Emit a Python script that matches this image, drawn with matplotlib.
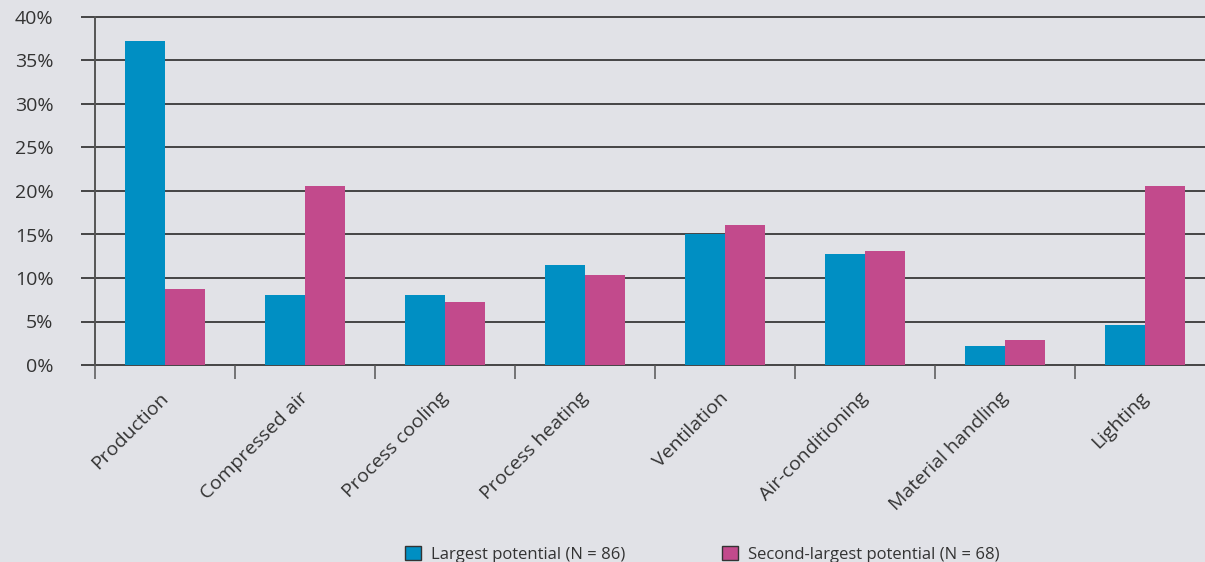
import matplotlib.pyplot as plt
import matplotlib.transforms as mtransforms
import numpy as np

categories = ["Production", "Compressed air", "Process cooling", "Process heating",
              "Ventilation", "Air-conditioning", "Material handling", "Lighting"]
largest = [37.2, 8.0, 8.0, 11.5, 15.1, 12.8, 2.2, 4.6]
second = [8.7, 20.6, 7.2, 10.3, 16.1, 13.1, 2.9, 20.6]
series_labels = ["Largest potential (N = 86)", "Second-largest potential (N = 68)"]
yticks = [0, 5, 10, 15, 20, 25, 30, 35, 40]

bg = "#E1E2E7"
blue = "#008FC3"
pink = "#C24A8C"
text_col = "#333333"

plt.rcParams["font.family"] = ["Open Sans", "DejaVu Sans"]

W, H = 1205, 562
fig = plt.figure(figsize=(W / 100, H / 100), dpi=100, facecolor=bg)
ax = fig.add_axes([95 / W, (H - 365) / H, (W - 95) / W, (365 - 17) / H])
ax.set_facecolor(bg)

x = np.arange(len(categories))
bw = 40 / 140
ax.bar(x - bw / 2, largest, width=bw, color=blue, label=series_labels[0], zorder=3)
ax.bar(x + bw / 2, second, width=bw, color=pink, label=series_labels[1], zorder=3)

ax.set_xlim(-0.5, -0.5 + (W - 95) / 140)
ax.set_ylim(0, 40)

# gridlines
for v in yticks:
    ax.axhline(v, color="#1a1a1a", lw=1.1, zorder=1, clip_on=False)

ax.set_yticks(yticks)
ax.set_yticklabels([f"{v}%" for v in yticks], fontsize=14, color=text_col)
ax.tick_params(axis="y", length=10, width=1.1, color="#1a1a1a", pad=20)

ax.set_xticks(np.arange(len(categories)) - 0.5)
ax.set_xticklabels([])
ax.tick_params(axis="x", which="major", length=10, width=1.1, color="#555555")
ax.set_xticks(x, minor=True)
ax.set_xticklabels(categories, minor=True, rotation=45, ha="right",
                   rotation_mode="anchor", fontsize=14, color=text_col)
ax.tick_params(axis="x", which="minor", length=0, pad=20)
shift = mtransforms.ScaledTranslation(-6 / 100, 4 / 100, fig.dpi_scale_trans)
for lbl in ax.get_xticklabels(minor=True):
    lbl.set_transform(lbl.get_transform() + shift)

for s in ["top", "right", "bottom"]:
    ax.spines[s].set_visible(False)
ax.spines["left"].set_color("#555555")
ax.spines["left"].set_linewidth(1.4)
ax.spines["left"].set_bounds(0, 40)

leg = fig.legend(loc="center", bbox_to_anchor=(0.583, 0.014), ncol=2, frameon=False,
                 fontsize=12, handlelength=0.95, handleheight=1.0, handletextpad=0.6,
                 columnspacing=5.8, labelcolor=text_col)
for p in leg.get_patches():
    p.set_edgecolor("#333333")
    p.set_linewidth(1.0)

fig.savefig("out.png", dpi=100, facecolor=bg)
